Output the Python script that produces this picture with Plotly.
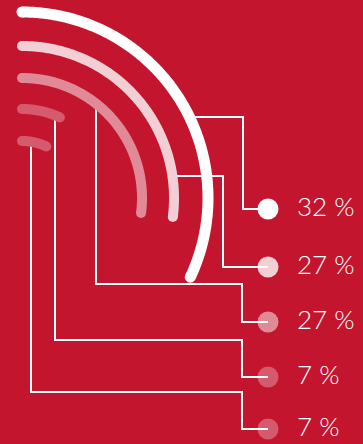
import numpy as np
import plotly.graph_objects as go

# --- data -------------------------------------------------------------
shares = [32, 27, 27, 7, 7]                      # percent per ring (outer -> inner)
labels = ["32 %", "27 %", "27 %", "7 %", "7 %"]

# --- styling / layout --------------------------------------------------
BG = "#C4152F"
ring_colors = ["#FFFFFF", "#F2CFD4", "#E08A97", "#D55A6E", "#D55A6E"]
ring_widths = [11, 10, 10, 10, 10]
ring_radii = [186, 152, 120, 89, 57]
CX, CY = 22, 198                                  # common centre of the rings

W, H = 363, 444
DOT_X = 268
dot_rows = [209, 267, 322, 377, 429]
elbow_x = [243, 223, 242, 242, 242]
# rings 1-2 leave horizontally at a given y, rings 3-5 drop vertically at a given x
leave_y = [117, 176, None, None, None]
leave_x = [None, None, 96, 55, 31]
turn_y = [None, None, 284, 340, 392]


def arc_xy(radius, share, n=200):
    theta = np.linspace(0, share / 100 * 2 * np.pi, n)
    return CX + radius * np.sin(theta), CY - radius * np.cos(theta)


fig = go.Figure()

# dots
fig.add_trace(go.Scatter(
    x=[DOT_X] * len(shares), y=dot_rows, mode="markers",
    marker=dict(size=21, color=ring_colors, line=dict(width=0)),
    hoverinfo="skip", showlegend=False))

# connectors
for i, r in enumerate(ring_radii):
    if leave_y[i] is not None:
        y0 = leave_y[i]
        x0 = CX + np.sqrt(r ** 2 - (CY - y0) ** 2)
        xs = [x0, elbow_x[i], elbow_x[i], DOT_X]
        ys = [y0, y0, dot_rows[i], dot_rows[i]]
    else:
        x0 = leave_x[i]
        y0 = CY - np.sqrt(r ** 2 - (x0 - CX) ** 2)
        xs = [x0, x0, elbow_x[i], elbow_x[i], DOT_X]
        ys = [y0, turn_y[i], turn_y[i], dot_rows[i], dot_rows[i]]
    fig.add_trace(go.Scatter(
        x=xs, y=ys, mode="lines", line=dict(color="white", width=2),
        hoverinfo="skip", showlegend=False))

# rings with rounded ends
for r, s, c, w in zip(ring_radii, shares, ring_colors, ring_widths):
    ax, ay = arc_xy(r, s)
    fig.add_trace(go.Scatter(
        x=ax, y=ay, mode="lines",
        line=dict(color=c, width=w, simplify=False),
        hoverinfo="skip", showlegend=False))
    fig.add_trace(go.Scatter(
        x=[ax[0], ax[-1]], y=[ay[0], ay[-1]], mode="markers",
        marker=dict(size=w, color=c, line=dict(width=0)),
        hoverinfo="skip", showlegend=False))

# value labels
fig.add_trace(go.Scatter(
    x=[297] * len(labels), y=dot_rows, mode="text", text=labels,
    textposition="middle right",
    textfont=dict(family="Lato", size=26, color="white", weight=300),
    hoverinfo="skip", showlegend=False))

fig.update_layout(
    width=W, height=H, margin=dict(l=0, r=0, t=0, b=0),
    paper_bgcolor=BG, plot_bgcolor=BG,
    xaxis=dict(range=[0, W], visible=False, fixedrange=True),
    yaxis=dict(range=[H, 0], visible=False, fixedrange=True),
)

fig.write_html("out.html", config={"displayModeBar": False})
